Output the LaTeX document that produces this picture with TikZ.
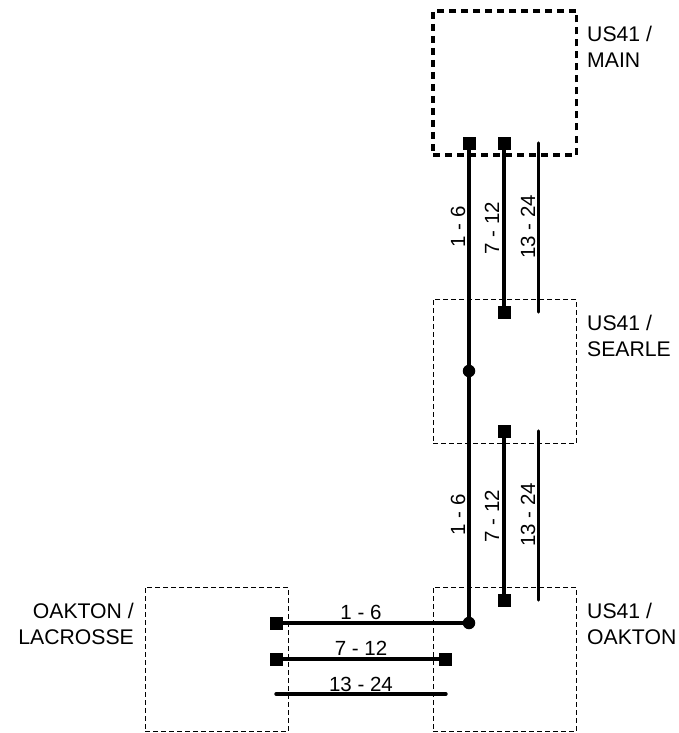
\documentclass[tikz,border=0pt]{standalone}
\usepackage{fontspec}
\setmainfont{Liberation Sans}
\begin{document}
\begin{tikzpicture}[x=1pt,y=-1pt,
  site/.style={draw=black,dash pattern=on 5pt off 3pt,line width=0.9pt,minimum width=143.5pt,minimum height=144pt,inner sep=0pt,outer sep=0pt,anchor=north west},
  mainsite/.style={site,line width=3.8pt,dash pattern=on 7pt off 5pt},
  term/.style={fill=black,minimum size=13pt,inner sep=0pt,outer sep=0pt},
  splice/.style={circle,fill=black,minimum size=12.5pt,inner sep=0pt,outer sep=0pt},
  trunk/.style={line width=4pt},
  spare/.style={line width=3.4pt,line cap=round},
  lab/.style={font=\fontsize{20.5pt}{26pt}\selectfont,inner sep=0pt},
  sitelab/.style={font=\fontsize{21.2pt}{26pt}\selectfont,inner sep=0pt},
  vlab/.style={lab,rotate=90}]
\useasboundingbox (0,0) rectangle (679,733);
\node[mainsite] (main) at (433,11) {};
\node[site] (searle) at (433,299) {};
\node[site] (oakton) at (433,587) {};
\node[site] (lacrosse) at (145,587) {};
\node[sitelab,align=left,anchor=west] (lmain) at (587,47) {US41 /\\MAIN};
\node[sitelab,align=left,anchor=west] (lsearle) at (587,335.5) {US41 /\\SEARLE};
\node[sitelab,align=left,anchor=west] (loakton) at (587,623.5) {US41 /\\OAKTON};
\node[sitelab,align=right,anchor=east] (llacrosse) at (134,623.5) {OAKTON /\\LACROSSE};
% terminals
\node[term] (a1) at (469,143) {};
\node[term] (a2) at (504,143) {};
\node[term] (b2) at (504,312) {};
\node[term] (c2) at (504,431) {};
\node[term] (d2) at (504,600) {};
\node[splice] (s1) at (469,371) {};
\node[splice] (s2) at (469,623) {};
\node[term] (e1) at (276,623) {};
\node[term] (e2) at (276,659) {};
\node[term] (f2) at (445,659) {};
\coordinate (a3) at (538.5,143);
\coordinate (b3) at (538.5,312);
\coordinate (c3) at (538.5,431);
\coordinate (d3) at (538.5,600);
\coordinate (e3) at (276,694);
\coordinate (f3) at (446,694);
% connectors
\draw[trunk] (a1.center) -- (s1.center);
\draw[trunk] (s1.center) -- (s2.center);
\draw[trunk] (s2.center) -- (e1.center);
\draw[trunk] (a2.center) -- (b2.center);
\draw[trunk] (c2.center) -- (d2.center);
\draw[trunk] (e2.center) -- (f2.center);
\draw[spare] (a3) -- (b3);
\draw[spare] (c3) -- (d3);
\draw[spare] (e3) -- (f3);
% labels
\node[vlab] (v1) at (458,227) {1 - 6};
\node[vlab] (v2) at (492,228) {7 - 12};
\node[vlab] (v3) at (528,227) {13 - 24};
\node[vlab] (w1) at (458,515) {1 - 6};
\node[vlab] (w2) at (492,516) {7 - 12};
\node[vlab] (w3) at (528,515) {13 - 24};
\node[lab] (h1) at (361,612) {1 - 6};
\node[lab] (h2) at (361,648) {7 - 12};
\node[lab] (h3) at (361,684) {13 - 24};
\end{tikzpicture}
\end{document}
